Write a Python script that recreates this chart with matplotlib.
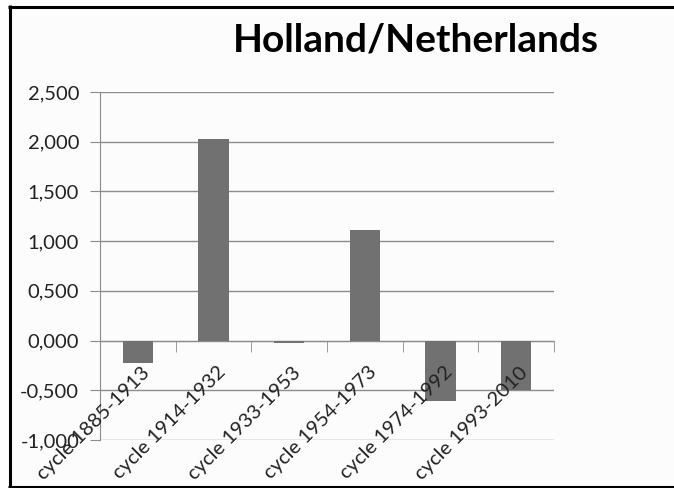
import matplotlib
matplotlib.use('Agg')
import matplotlib.pyplot as plt
from matplotlib.patches import Rectangle
from matplotlib.lines import Line2D
from matplotlib.transforms import offset_copy
from matplotlib.ticker import FuncFormatter, FixedLocator
import numpy as np

# Data
cycles = ['cycle 1885-1913', 'cycle 1914-1932', 'cycle 1933-1953',
          'cycle 1954-1973', 'cycle 1974-1992', 'cycle 1993-2010']
values = [-0.226, 2.024, -0.027, 1.114, -0.610, -0.500]

plt.rcParams['font.family'] = ['Lato', 'DejaVu Sans']

fig = plt.figure(figsize=(6.74, 4.88), dpi=100)
fig.patch.set_facecolor('white')

# chart frame: left, top and bottom edges (right edge is cut off)
W, H = 674, 488
fig.patches.append(Rectangle((9.5 / W, 1.5 / H), 700 / W, 480 / H, transform=fig.transFigure,
                             facecolor='#fcfcfc', edgecolor='none', zorder=-5))
for xs, ys in [([9.5, 9.5], [0, 483]), ([8, 680], [481.5, 481.5]), ([8, 680], [1.5, 1.5])]:
    fig.lines.append(Line2D(np.array(xs) / W, np.array(ys) / H, transform=fig.transFigure,
                            color='black', linewidth=2.2, solid_capstyle='butt', zorder=-4))

ax = fig.add_axes([100 / W, 48 / H, 454 / W, 348 / H])
ax.set_facecolor('none')

x = np.arange(len(cycles))
ax.bar(x, values, width=0.4, color='#717171', zorder=3)

ax.set_xlim(-0.5, len(cycles) - 0.5)
ax.set_ylim(-1, 2.5)
ax.set_yticks(np.arange(-1, 2.51, 0.5))
ax.yaxis.set_major_formatter(FuncFormatter(lambda v, p: f'{v:.3f}'.replace('.', ',')))
ax.grid(axis='y', color='#8c8c8c', linewidth=1, zorder=1)
ax.set_axisbelow(True)

for s in ['top', 'right']:
    ax.spines[s].set_visible(False)
ax.spines['left'].set_color('#8c8c8c')
ax.spines['bottom'].set_color('#8c8c8c')
ax.spines['bottom'].set_position(('data', 0))

ax.tick_params(axis='y', length=7, color='#8c8c8c', labelsize=14.5, labelcolor='#222222', pad=8)
ax.set_xticks(x)
ax.set_xticklabels([])
ax.tick_params(axis='x', which='major', length=0)
# category separators on the zero line
ax.xaxis.set_minor_locator(FixedLocator(np.arange(0.5, len(cycles), 1.0)))
ax.tick_params(axis='x', which='minor', length=8, color='#8c8c8c', direction='out')

# rotated category labels hanging from the zero line
lab_tr = offset_copy(ax.transData, fig=fig, x=3, y=-23, units='dots')
for xi, name in zip(x, cycles):
    ax.text(xi, 0, name, transform=lab_tr, rotation=45, rotation_mode='anchor',
            ha='right', va='top', fontsize=14.5, color='#222222', zorder=4)

fig.text(0.617, 0.918, 'Holland/Netherlands', fontsize=28, fontweight='bold',
         ha='center', va='center', color='black')

plt.savefig('out.png', dpi=100)
